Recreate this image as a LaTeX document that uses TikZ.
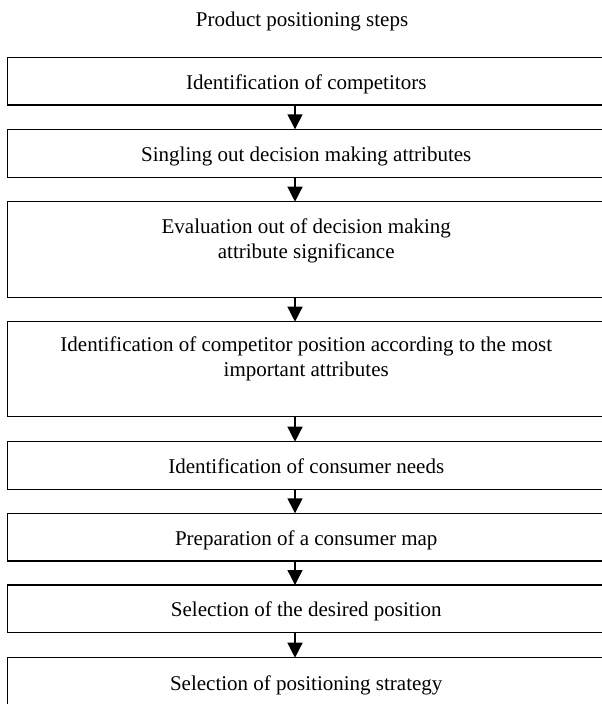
\documentclass[tikz,border=0pt]{standalone}
\usepackage{fontspec}
\setmainfont{Liberation Serif}
\usetikzlibrary{arrows.meta}
\begin{document}
\begin{tikzpicture}[x=1pt,y=1pt,
  stepbox/.style={draw=black, line width=1.5pt, rectangle, minimum width=597.5pt,
    inner sep=0pt, outer sep=0pt, anchor=north west},
  steptext/.style={font=\fontsize{21}{25}\selectfont, align=center, inner sep=0pt},
  flow/.style={line width=1.4pt, -{Triangle[width=15pt,length=15pt]}}
]
\useasboundingbox (0,0) rectangle (602,-704);
\clip (0,0) rectangle (602,-704);

% title
\node[steptext, anchor=base] (title) at (302,-27) {Product positioning steps};

% step boxes
\node[stepbox, minimum height=47.7pt] (b1) at (7.5,-57.3) {};
\node[stepbox, minimum height=48pt]   (b2) at (7.5,-129.3) {};
\node[stepbox, minimum height=95.6pt] (b3) at (7.5,-201.7) {};
\node[stepbox, minimum height=95pt]   (b4) at (7.5,-321.7) {};
\node[stepbox, minimum height=47.6pt] (b5) at (7.5,-441.7) {};
\node[stepbox, minimum height=47.7pt] (b6) at (7.5,-513.3) {};
\node[stepbox, minimum height=47.7pt] (b7) at (7.5,-585) {};
\node[stepbox, minimum height=47.7pt] (b8) at (7.5,-657.7) {};

% step labels
\node[steptext, anchor=base] (t1) at (306.25,-89) {Identification of competitors};
\node[steptext, anchor=base] (t2) at (306.25,-161) {Singling out decision making attributes};
\node[steptext, anchor=north] (t3) at (306.25,-219) {Evaluation out of decision making\\attribute significance};
\node[steptext, anchor=north] (t4) at (306.25,-337) {Identification of competitor position according to the most\\important attributes};
\node[steptext, anchor=base] (t5) at (306.25,-473) {Identification of consumer needs};
\node[steptext, anchor=base] (t6) at (306.25,-545) {Preparation of a consumer map};
\node[steptext, anchor=base] (t7) at (306.25,-616.5) {Selection of the desired position};
\node[steptext, anchor=base] (t8) at (306.25,-690.5) {Selection of positioning strategy};

% connectors
\coordinate (ax) at (295,0);
\foreach \a/\b in {b1/b2,b2/b3,b3/b4,b4/b5,b5/b6,b6/b7,b7/b8}
  \draw[flow] (\a.south -| ax) -- (\b.north -| ax);
\end{tikzpicture}
\end{document}
